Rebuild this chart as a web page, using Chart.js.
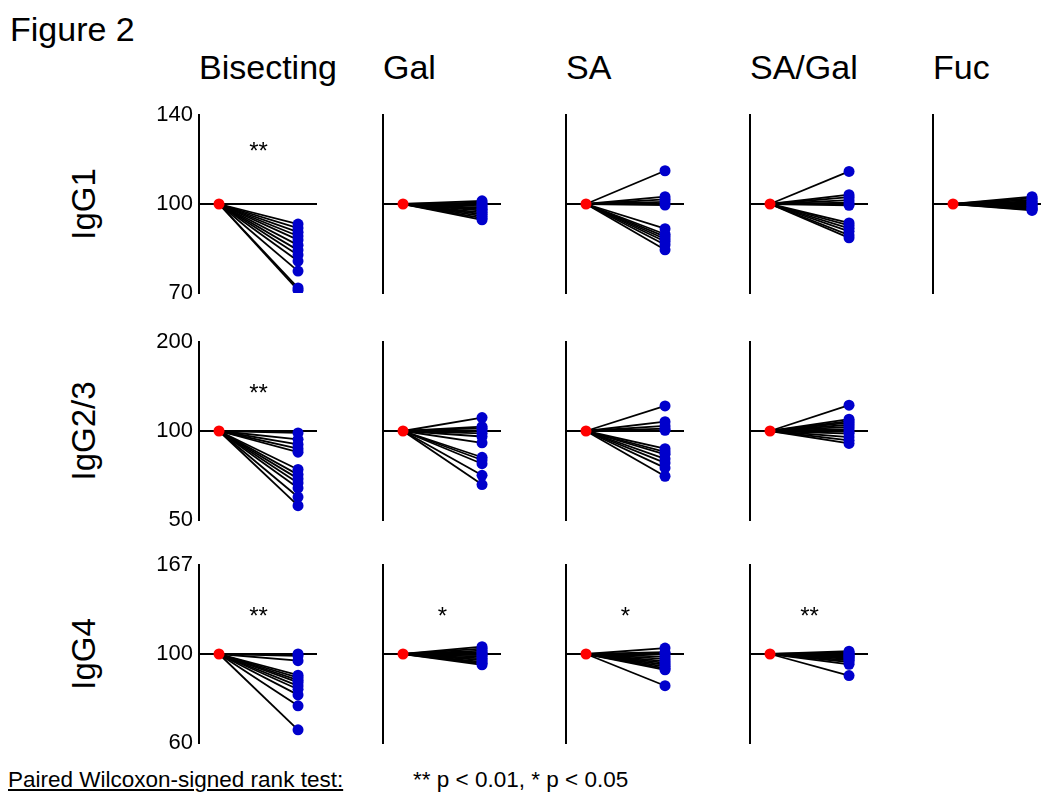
<!DOCTYPE html>
<html>
<head>
<meta charset="utf-8">
<title>Figure 2</title>
<script src="https://cdn.jsdelivr.net/npm/chart.js@4.4.1/dist/chart.umd.min.js"></script>
<style>
  body { margin: 0; width: 1041px; height: 794px; overflow: hidden; background: #fff;
         font-family: "Liberation Sans", Arial, sans-serif; position: relative; }
  .txt { position: absolute; color: #000; white-space: nowrap; line-height: 1; }
  .rot { transform: translate(-50%, -50%) rotate(-90deg); }
  .panel { position: absolute; }
</style>
</head>
<body>
<div class="txt" style="left:10px; top:12px; font-size:34px">Figure 2</div>
<div id="heads"></div>
<div class="txt" style="left:8px; top:769px; font-size:22.5px; text-decoration:underline">Paired Wilcoxon-signed rank test:</div>
<div class="txt" style="left:413px; top:769px; font-size:22.5px">** p &lt; 0.01, * p &lt; 0.05</div>

<script>
// categories
const glycans = ['Bisecting', 'Gal', 'SA', 'SA/Gal', 'Fuc'];
const subclasses = ['IgG1', 'IgG2/3', 'IgG4'];

// y axis ranges (log scale, % of baseline) and tick labels per row
const yMin = [100 / 1.4, 50, 100 / 1.67];
const yMax = [140, 200, 167];
const yTickValues = [[100 / 1.4, 100, 140], [50, 100, 200], [100 / 1.67, 100, 167]];
const yTickLabels = [['70', '100', '140'], ['50', '100', '200'], ['60', '100', '167']];

// baseline is 100 for every subject
const baseline = 100;

// IgG1
const igg1Bisecting = [92.7, 91.3, 89.9, 88.6, 87.3, 85.6, 84.0, 82.5, 80.6, 77.6, 72.8, 72.2];
const igg1Gal = [101.2, 100.5, 99.8, 99.2, 98.5, 98.0, 97.5, 96.8, 96.2, 95.5, 94.8, 94.2];
const igg1SA = [113.4, 102.8, 101.8, 100.8, 99.6, 91.1, 89.2, 88.4, 87.6, 86.8, 85.7, 84.1];
const igg1SAGal = [113.1, 103.6, 102.6, 101.5, 100.5, 99.5, 93.1, 92.2, 91.2, 90.2, 88.9, 88.0];
const igg1Fuc = [102.8, 102.2, 101.6, 101.0, 100.5, 100.0, 99.5, 99.0, 98.6, 98.2, 97.9, 97.6];

// IgG2/3
const igg23Bisecting = [98.5, 93.7, 90.1, 87.1, 84.8, 74.1, 71.2, 69.0, 66.7, 64.1, 59.8, 55.9];
const igg23Gal = [111.0, 103.5, 102.2, 100.5, 98.2, 95.8, 91.2, 81.5, 79.8, 77.5, 70.8, 65.9];
const igg23SA = [121.6, 107.5, 104.0, 101.8, 100.5, 87.1, 85.0, 83.4, 80.5, 78.0, 75.0, 70.3];
const igg23SAGal = [122.3, 109.6, 108.0, 106.7, 105.0, 103.2, 101.5, 99.5, 98.0, 95.4, 93.0, 90.8];

// IgG4
const igg4Bisecting = [100.0, 99.0, 96.2, 88.5, 87.3, 86.0, 84.9, 83.2, 81.6, 79.0, 74.2, 64.6];
const igg4Gal = [104.3, 103.2, 102.0, 101.0, 100.2, 99.4, 98.5, 97.5, 96.6, 95.6, 94.8, 94.0];
const igg4SA = [103.5, 101.0, 100.0, 98.5, 97.2, 96.0, 95.0, 94.0, 93.0, 92.0, 91.3, 83.3];
const igg4SAGal = [101.6, 100.8, 100.2, 99.6, 99.0, 98.4, 97.8, 97.2, 96.4, 95.5, 94.2, 88.3];

// Wilcoxon significance marks per row / column
const sigIgG1 = ['**', '', '', '', ''];
const sigIgG23 = ['**', '', '', '', ''];
const sigIgG4 = ['**', '*', '*', '**', ''];
const sigLevel = [124.5, 139, 128];

const rows = [
  [igg1Bisecting, igg1Gal, igg1SA, igg1SAGal, igg1Fuc],
  [igg23Bisecting, igg23Gal, igg23SA, igg23SAGal, null],
  [igg4Bisecting, igg4Gal, igg4SA, igg4SAGal, null]
];
const sigs = [sigIgG1, sigIgG23, sigIgG4];

// layout
const AXIS_X = [199, 383, 566, 750, 933];
const AXIS_TOP = [115, 342, 565];
const PLOT_H = 178;
const AXIS_W = 60;
const PLOT_W = 118;
const PAD = 24; // more than half a tick label + tick padding, so every panel gets the same plot area
const X_MIN = -0.253, X_MAX = 1.24;
const FONT = 'Liberation Sans';

// headers and row labels
const heads = document.getElementById('heads');
glycans.forEach((g, c) => {
  const d = document.createElement('div');
  d.className = 'txt';
  d.style.cssText = `left:${AXIS_X[c]}px; top:50px; font-size:34px`;
  d.textContent = g;
  heads.appendChild(d);
});
subclasses.forEach((s, r) => {
  const d = document.createElement('div');
  d.className = 'txt rot';
  d.style.cssText = `left:83px; top:${AXIS_TOP[r] + PLOT_H / 2}px; font-size:33px`;
  d.textContent = s;
  heads.appendChild(d);
});

const sigPlugin = {
  id: 'sig',
  afterDatasetsDraw(chart, args, opts) {
    if (!opts.text) return;
    const ctx = chart.ctx;
    ctx.save();
    ctx.font = `24px "${FONT}"`;
    ctx.fillStyle = '#000';
    ctx.textAlign = 'center';
    ctx.textBaseline = 'middle';
    // asterisks sit high in the em box, push them down a little
    ctx.fillText(opts.text, chart.scales.x.getPixelForValue(0.5), chart.scales.y.getPixelForValue(opts.level) + 6);
    ctx.restore();
  }
};

function makePanel(r, c, values) {
  const wrap = document.createElement('div');
  wrap.className = 'panel';
  wrap.style.left = (AXIS_X[c] - AXIS_W) + 'px';
  wrap.style.top = (AXIS_TOP[r] - PAD) + 'px';
  const cv = document.createElement('canvas');
  cv.width = AXIS_W + PLOT_W;
  cv.height = PLOT_H + 2 * PAD;
  wrap.appendChild(cv);
  document.body.appendChild(wrap);

  const datasets = [];
  datasets.push({
    data: [{ x: X_MIN, y: baseline }, { x: X_MAX, y: baseline }],
    borderColor: '#000', borderWidth: 2, pointRadius: 0, order: 4
  });
  values.forEach(v => datasets.push({
    data: [{ x: 0, y: baseline }, { x: 1, y: v }],
    borderColor: '#000', borderWidth: 1.8, pointRadius: 0, order: 3
  }));
  datasets.push({
    data: values.map(v => ({ x: 1, y: v })),
    showLine: false, pointRadius: 5.5, pointBackgroundColor: '#0000cc', pointBorderWidth: 0, order: 2
  });
  datasets.push({
    data: [{ x: 0, y: baseline }],
    showLine: false, pointRadius: 5.5, pointBackgroundColor: '#ff0000', pointBorderWidth: 0, order: 1
  });

  new Chart(cv, {
    type: 'line',
    data: { datasets },
    options: {
      responsive: false,
      animation: false,
      layout: { autoPadding: false, padding: { top: PAD, bottom: PAD, left: 0, right: 0 } },
      plugins: {
        legend: { display: false },
        tooltip: { enabled: false },
        sig: { text: sigs[r][c], level: sigLevel[r] }
      },
      scales: {
        x: { type: 'linear', min: X_MIN, max: X_MAX, display: false },
        y: {
          type: 'logarithmic', min: yMin[r], max: yMax[r],
          grid: { display: false, drawTicks: false },
          border: { display: true, color: '#000', width: 2 },
          afterBuildTicks: s => { s.ticks = yTickValues[r].map(v => ({ value: v })); },
          afterFit: s => { s.width = AXIS_W; },
          ticks: {
            display: c === 0, autoSkip: false, padding: 6, color: '#000',
            font: { family: FONT, size: 22 },
            callback: (v, i) => yTickLabels[r][i]
          }
        }
      }
    },
    plugins: [sigPlugin]
  });
}

rows.forEach((row, r) => row.forEach((vals, c) => { if (vals) makePanel(r, c, vals); }));
</script>
</body>
</html>
